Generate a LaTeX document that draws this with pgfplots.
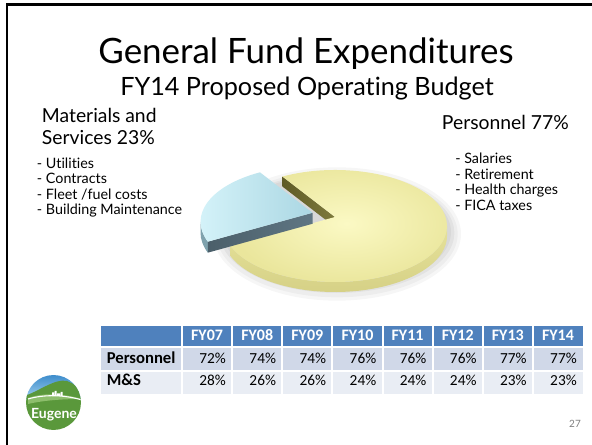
\documentclass[border=0pt]{standalone}
\usepackage{pgfplots}
\pgfplotsset{compat=1.18}
\usepackage{pgfplotstable}
\usepackage{fontspec}
\setmainfont{Lato}[Ligatures=NoCommon]
\newfontfamily\tabfont{Carlito}

\definecolor{hdr}{HTML}{4F81BD}
\definecolor{rowA}{HTML}{D0D8E8}
\definecolor{rowB}{HTML}{E9EDF4}
\definecolor{yelIn}{HTML}{FBF9C4}
\definecolor{yelOut}{HTML}{EAE69C}
\definecolor{yelSideT}{HTML}{E6E29A}
\definecolor{yelSideB}{HTML}{D4CF84}
\definecolor{olive}{HTML}{5F5B26}
\definecolor{oliveL}{HTML}{7E7A3C}
\definecolor{bluL}{HTML}{D8F5FB}
\definecolor{bluR}{HTML}{ABD7E3}
\definecolor{bluWall}{HTML}{4B5F6A}
\definecolor{bluWallL}{HTML}{5F7683}
\definecolor{bluRim}{HTML}{7FA2AD}
\definecolor{sky}{HTML}{3A8ACB}
\definecolor{skyL}{HTML}{A3D2EE}
\definecolor{grn}{HTML}{5A983B}
\definecolor{grnL}{HTML}{8DBE6C}

\pgfplotstableread{
label value
Personnel 77
MS 23
}\pietable

\pgfplotstableread{
year pers ms
FY07 72 28
FY08 74 26
FY09 74 26
FY10 76 24
FY11 76 24
FY12 76 24
FY13 77 23
FY14 77 23
}\histtable

\begin{document}
\begin{tikzpicture}
\useasboundingbox (0pt,0pt) rectangle (444pt,333.75pt);
\fill[white] (0pt,0pt) rectangle (444pt,333.75pt);
\pgfplotstablegetelem{0}{value}\of\pietable
\pgfmathsetmacro\aP{3.6*\pgfplotsretval}
\pgfmathsetmacro\tA{118}
\pgfmathsetmacro\tB{\tA-\aP}
\pgfmathsetmacro\tC{\tB+360}
\pgfmathsetmacro\tM{(\tA+\tC)/2}
% ellipse centre (E) and projected apex (A) of the Personnel slice
\def\ex{335}\def\ey{219}\def\ay{228}
% exploded M&S slice offset
\pgfmathsetmacro\ox{24*cos(\tM)}
\pgfmathsetmacro\oy{12*sin(\tM)}
\pgfmathsetmacro\bex{\ex+\ox}
\pgfmathsetmacro\bey{\ey+\oy}
\pgfmathsetmacro\bay{\ay+\oy}

\begin{axis}[at={(0pt,0pt)}, anchor=south west, x=0.75pt, y=0.75pt,
  xmin=0, xmax=592, ymin=0, ymax=445, hide axis, clip=false]
% soft shadow
\fill[black, opacity=0.035] (axis cs:337,211) ellipse[x radius=93pt, y radius=50pt];
\fill[black, opacity=0.035] (axis cs:337,211) ellipse[x radius=90.5pt, y radius=47.5pt];
\fill[black, opacity=0.045] (axis cs:337,212) ellipse[x radius=88pt, y radius=45pt];
\fill[black, opacity=0.045] (axis cs:337,213) ellipse[x radius=85.5pt, y radius=43pt];
% Personnel slice: side rim
\shade[top color=yelSideT, bottom color=yelSideB]
  (axis cs:\ex,\ey) ++(\tB:84pt and 42pt) ++(0pt,-7.5pt)
  arc[start angle=\tB, end angle=0, x radius=84pt, y radius=42pt]
  -- ++(0pt,7.5pt)
  arc[start angle=0, end angle=\tB, x radius=84pt, y radius=42pt] -- cycle;
% Personnel slice: radial wall
\shade[left color=olive, right color=oliveL]
  (axis cs:\ex,\ay) -- ([shift={(\tA:84pt and 42pt)}]axis cs:\ex,\ey)
  -- ([shift={(\tA:84pt and 42pt)},yshift=-7.5pt]axis cs:\ex,\ey)
  -- ([yshift=-7.5pt]axis cs:\ex,\ay) -- cycle;
% Personnel slice: top
\shade[inner color=yelIn, outer color=yelOut]
  (axis cs:\ex,\ay) -- ([shift={(\tA:84pt and 42pt)}]axis cs:\ex,\ey)
  arc[start angle=\tA, end angle=\tB, x radius=84pt, y radius=42pt] -- cycle;
% M&S slice (exploded): rim
\fill[bluRim]
  (axis cs:\bex,\bey) ++(180:84pt and 42pt) ++(0pt,-8.25pt)
  arc[start angle=180, end angle=\tC, x radius=84pt, y radius=42pt]
  -- ++(0pt,8.25pt)
  arc[start angle=\tC, end angle=180, x radius=84pt, y radius=42pt] -- cycle;
% M&S slice: radial wall
\shade[left color=bluWall, right color=bluWallL]
  (axis cs:\bex,\bay) -- ([shift={(\tC:84pt and 42pt)}]axis cs:\bex,\bey)
  -- ([shift={(\tC:84pt and 42pt)},yshift=-8.25pt]axis cs:\bex,\bey)
  -- ([yshift=-8.25pt]axis cs:\bex,\bay) -- cycle;
% M&S slice: top
\shade[left color=bluL, right color=bluR]
  (axis cs:\bex,\bay) -- ([shift={(\tA:84pt and 42pt)}]axis cs:\bex,\bey)
  arc[start angle=\tA, end angle=\tC, x radius=84pt, y radius=42pt] -- cycle;
\end{axis}

\begin{scope}[x=0.75pt, y=-0.75pt, shift={(0pt,333.75pt)}]
% frame
\draw[line width=1.8pt, black] (7,446) -- (7,4.5) -- (593,4.5);
% titles
\node[anchor=base, inner sep=0pt, font=\fontsize{26.2}{30}\selectfont] at (306,63.3) {General Fund Expenditures};
\node[anchor=base, inner sep=0pt, font=\fontsize{18.9}{22}\selectfont] at (307,96) {FY14 Proposed Operating Budget};
% left label
\node[anchor=base west, inner sep=0pt, font=\fontsize{14.5}{17}\selectfont] at (41.7,122.7) {Materials and};
\node[anchor=base west, inner sep=0pt, font=\fontsize{14.5}{17}\selectfont] at (41.7,144.3) {Services 23\%};
\foreach \lab/\yy in {{Utilities}/168.3, {Contracts}/184, {Fleet /fuel costs}/199.3, {Building Maintenance}/214.3}
  \node[anchor=base west, inner sep=0pt, font=\fontsize{10.75}{12}\selectfont] at (36.7,\yy) {- \lab};
% right label
\node[anchor=base west, inner sep=0pt, font=\fontsize{14.5}{17}\selectfont] at (441.7,129.3) {Personnel 77\%};
\foreach \lab/\yy in {{Salaries}/164, {Retirement}/180, {Health charges}/195, {FICA taxes}/210.7}
  \node[anchor=base west, inner sep=0pt, font=\fontsize{10.75}{12}\selectfont] at (455,\yy) {- \lab};
% table
\fill[hdr] (101,326) rectangle (583,346);
\fill[rowA] (101,348) rectangle (583,370);
\fill[rowB] (101,372) rectangle (583,394);
\foreach \k in {0,...,7}
  \draw[white, line width=1.5pt] ({182+\k*50.125},326) -- ({182+\k*50.125},394);
\node[anchor=base west, inner sep=0pt, font=\tabfont\bfseries\fontsize{12.5}{14}\selectfont] at (106.5,363.6) {Personnel};
\node[anchor=base west, inner sep=0pt, font=\tabfont\bfseries\fontsize{12.5}{14}\selectfont] at (106.5,385.3) {M\&S};
\foreach \k in {0,...,7}{
  \pgfplotstablegetelem{\k}{year}\of\histtable
  \node[anchor=base, inner sep=0pt, text=white, font=\tabfont\bfseries\fontsize{12}{14}\selectfont] at ({182+(\k+0.5)*50.125},340.5) {\pgfplotsretval};
  \pgfplotstablegetelem{\k}{pers}\of\histtable
  \node[anchor=base east, inner sep=0pt, font=\tabfont\fontsize{11.5}{13}\selectfont] at ({182+(\k+1)*50.125-6},363.6) {\pgfplotsretval\%};
  \pgfplotstablegetelem{\k}{ms}\of\histtable
  \node[anchor=base east, inner sep=0pt, font=\tabfont\fontsize{11.5}{13}\selectfont] at ({182+(\k+1)*50.125-6},385.3) {\pgfplotsretval\%};
}
% logo
\begin{scope}
\clip (53.5,402.5) circle[radius=20.6pt];
\shade[top color=sky, bottom color=skyL] (25,374) rectangle (83,400);
\fill[grn] (24,396) .. controls (38,392) and (55,378) .. (67,381)
  .. controls (74,383) and (79,389) .. (84,393) -- (84,432) -- (24,432) -- cycle;
\fill[grnL] (28,398) .. controls (45,392) and (65,394) .. (82,399)
  .. controls (65,399) and (45,400) .. (28,404) -- cycle;
\draw[white, line width=0.8pt] (28,399) .. controls (45,394) and (65,395) .. (82,400);
\fill[white] (52,396) rectangle (54,392.5) (54.5,396) rectangle (56.5,391) (57,396) rectangle (60,393.5) (60.5,396) rectangle (62.5,392);
\node[anchor=base, inner sep=0pt, text=white, font=\bfseries\fontsize{10.5}{12}\selectfont] at (54,419) {Eugene};
\end{scope}
% page number
\node[anchor=base, inner sep=0pt, text=gray, font=\fontsize{7.5}{9}\selectfont] at (575,428) {27};
\end{scope}
\end{tikzpicture}
\end{document}
